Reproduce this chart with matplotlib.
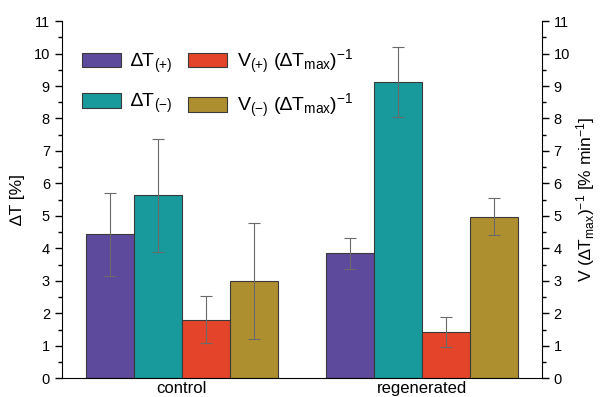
import matplotlib
matplotlib.use("Agg")
import matplotlib.pyplot as plt
import numpy as np

plt.rcParams['font.family'] = ['Liberation Sans', 'DejaVu Sans']
plt.rcParams['mathtext.fontset'] = 'custom'
plt.rcParams['mathtext.rm'] = 'Liberation Sans'
plt.rcParams['mathtext.it'] = 'Liberation Sans'

groups = ['control', 'regenerated']
series_labels = ['∆T$_{(+)}$', '∆T$_{(-)}$', 'V$_{(+)}$ (∆T$_{max}$)$^{-1}$', 'V$_{(-)}$ (∆T$_{max}$)$^{-1}$']
dT_plus = [4.43, 3.85]
dT_plus_err = [1.28, 0.48]
dT_minus = [5.63, 9.12]
dT_minus_err = [1.75, 1.07]
V_plus = [1.80, 1.43]
V_plus_err = [0.72, 0.47]
V_minus = [3.00, 4.97]
V_minus_err = [1.78, 0.57]

colors = ['#5e4a9c', '#189a9c', '#e4452a', '#ae8f2f']
values = [dT_plus, dT_minus, V_plus, V_minus]
errors = [dT_plus_err, dT_minus_err, V_plus_err, V_minus_err]

fig = plt.figure(figsize=(6, 3.97), dpi=100)
ax = fig.add_axes([0.103, 0.047, 0.8, 0.9])
x = np.arange(len(groups))
w = 0.2
handles = []
for i, (v, e, c, lab) in enumerate(zip(values, errors, colors, series_labels)):
    b = ax.bar(x + (i - 1.5) * w, v, w, color=c, edgecolor='#3a3a3a', linewidth=0.8,
               yerr=e, error_kw=dict(ecolor='#6a6a6a', elinewidth=0.8, capsize=4, capthick=0.8),
               label=lab)
    handles.append(b)

ax.set_xlim(-0.5, 1.5)
ax.set_ylim(0, 11)
ax.set_xticks(x)
ax.set_xticklabels(groups, fontsize=12)
ax.tick_params(axis='x', length=0, pad=2)
ax.set_yticks(np.arange(0, 12, 1))
ax.set_yticks(np.arange(0.5, 11, 1), minor=True)
ax.tick_params(axis='y', which='major', direction='out', length=5, labelsize=10.5, width=1)
ax.tick_params(axis='y', which='minor', direction='out', length=3, width=1)
ax.spines['top'].set_visible(False)
ax.spines['right'].set_visible(False)
ax.set_ylabel('∆T [%]', fontsize=12.5, labelpad=6)

ax2 = ax.twinx()
ax2.set_ylim(0, 11)
ax2.set_yticks(np.arange(0, 12, 1))
ax2.set_yticks(np.arange(0.5, 11, 1), minor=True)
ax2.tick_params(axis='y', which='major', direction='out', length=5, labelsize=10.5, width=1)
ax2.tick_params(axis='y', which='minor', direction='out', length=3, width=1)
ax2.spines['top'].set_visible(False)
ax2.spines['left'].set_visible(False)
ax2.spines['bottom'].set_visible(False)
ax2.set_ylabel('V (∆T$_{max}$)$^{-1}$ [% min$^{-1}$]', fontsize=12.5, labelpad=3)

leg = ax.legend(handles=handles, labels=series_labels, ncol=2, frameon=False,
                loc='upper left', bbox_to_anchor=(0.005, 0.975), fontsize=14,
                handlelength=2.0, handleheight=0.75, labelspacing=0.85,
                columnspacing=0.8, handletextpad=0.5)

fig.savefig('out.png', dpi=100)
